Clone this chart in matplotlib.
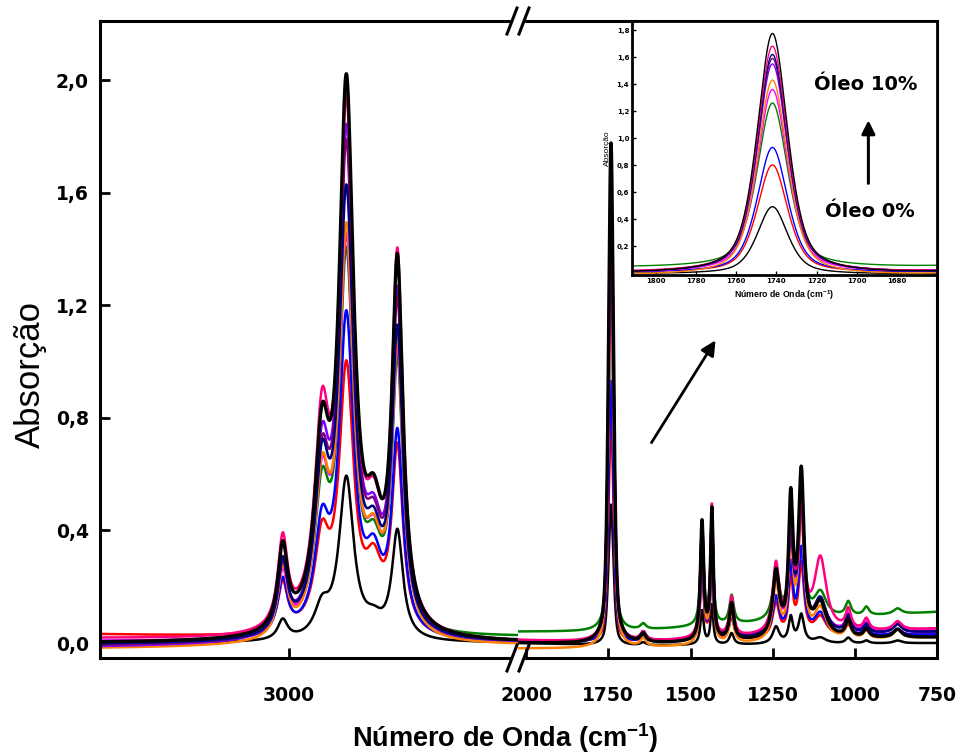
import numpy as np
import matplotlib
matplotlib.use("Agg")
import matplotlib.pyplot as plt
from matplotlib.patches import FancyArrowPatch

# ---------------- data ----------------
series = ["0%", "1%", "2%", "3%", "4%", "5%", "6%", "7%", "8%", "9%", "10%"]
colors = ["#000000", "#FF0000", "#0000FF", "#008000", "#FF00FF", "#FF8000",
          "#8000FF", "#800080", "#000080", "#FF0080", "#000000"]
widths_main = [1.8, 1.8, 1.8, 1.8, 1.8, 1.8, 1.8, 1.8, 1.8, 1.8, 2.4]

# band centres (cm-1), half widths (cm-1) and lorentzian fraction
band_wn = [3008, 2955, 2922, 2885, 2853, 1742, 1644, 1465, 1435, 1375,
           1240, 1195, 1163, 1105, 1020, 965, 870]
band_hw = [8, 12, 12, 14, 9, 9, 10, 6, 5, 8, 12, 8, 10, 22, 10, 10, 15]
band_eta = [1, 1, 1, 1, 1, 0.55, 1, 1, 1, 1, 1, 1, 1, 1, 1, 1, 1]

# band heights for each series (0% ... 10%)
h_3008 = [0.07, 0.17, 0.19, 0.22, 0.21, 0.24, 0.24, 0.24, 0.25, 0.31, 0.29]
h_2955 = [0.10, 0.30, 0.34, 0.44, 0.48, 0.50, 0.56, 0.52, 0.52, 0.66, 0.60]
h_2922 = [0.57, 0.92, 1.10, 1.30, 1.35, 1.40, 1.73, 1.68, 1.52, 1.80, 1.89]
h_2885 = [0.05, 0.20, 0.22, 0.22, 0.24, 0.25, 0.27, 0.26, 0.25, 0.30, 0.31]
h_2853 = [0.38, 0.64, 0.69, 0.93, 0.98, 1.02, 1.17, 1.14, 1.04, 1.29, 1.27]
h_1742 = [0.50, 0.80, 0.93, 1.22, 1.36, 1.45, 1.55, 1.59, 1.62, 1.68, 1.78]
h_1644 = [0.01, 0.02, 0.02, 0.02, 0.03, 0.03, 0.03, 0.03, 0.03, 0.03, 0.03]
h_1465 = [0.12, 0.25, 0.28, 0.33, 0.36, 0.37, 0.39, 0.40, 0.40, 0.41, 0.42]
h_1435 = [0.14, 0.28, 0.31, 0.36, 0.40, 0.41, 0.43, 0.44, 0.44, 0.46, 0.46]
h_1375 = [0.04, 0.08, 0.09, 0.10, 0.11, 0.11, 0.12, 0.12, 0.12, 0.14, 0.13]
h_1240 = [0.06, 0.12, 0.14, 0.17, 0.19, 0.20, 0.21, 0.21, 0.22, 0.24, 0.23]
h_1195 = [0.09, 0.20, 0.24, 0.29, 0.33, 0.34, 0.36, 0.37, 0.38, 0.40, 0.47]
h_1163 = [0.10, 0.25, 0.30, 0.36, 0.42, 0.44, 0.46, 0.47, 0.48, 0.45, 0.57]
h_1105 = [0.02, 0.07, 0.08, 0.09, 0.11, 0.11, 0.12, 0.12, 0.12, 0.26, 0.12]
h_1020 = [0.02, 0.04, 0.05, 0.05, 0.06, 0.06, 0.06, 0.06, 0.06, 0.07, 0.06]
h_965 = [0.01, 0.02, 0.03, 0.03, 0.03, 0.03, 0.03, 0.03, 0.03, 0.04, 0.03]
h_870 = [0.01, 0.02, 0.02, 0.02, 0.03, 0.03, 0.03, 0.03, 0.03, 0.03, 0.03]

# baselines at the ends (and middle of the right panel)
base_left_start = [0.00, 0.03, 0.005, 0.0, 0.005, -0.02, -0.015, -0.01, -0.005, 0.015, 0.0]
base_left_end = [0.0, 0.0, 0.0, 0.02, 0.0, -0.01, 0.0, 0.0, 0.0, 0.0, 0.0]
base_right_start = [0.0, 0.01, 0.005, 0.04, 0.0, -0.02, 0.0, 0.005, 0.0, 0.01, 0.0]
base_right_mid = [-0.01, 0.0, 0.0, 0.04, 0.0, -0.02, 0.0, 0.0, 0.0, 0.0, -0.005]
base_right_end = [0.0, 0.03, 0.03, 0.11, 0.05, 0.02, 0.04, 0.04, 0.04, 0.05, 0.02]
base_right_mid_wn = 1700

left_range = (3255, 2690)
right_range = (2025, 750)
inset_range = (1812, 1660)

y_ticks = [0.0, 0.4, 0.8, 1.2, 1.6, 2.0]
y_tick_labels = ["0,0", "0,4", "0,8", "1,2", "1,6", "2,0"]
x_ticks_left = [3000]
x_ticks_right = [2000, 1750, 1500, 1250, 1000, 750]
inset_x_ticks = [1800, 1780, 1760, 1740, 1720, 1700, 1680]
inset_y_ticks = [0.2, 0.4, 0.6, 0.8, 1.0, 1.2, 1.4, 1.6, 1.8]

heights = [h_3008, h_2955, h_2922, h_2885, h_2853, h_1742, h_1644, h_1465, h_1435,
           h_1375, h_1240, h_1195, h_1163, h_1105, h_1020, h_965, h_870]


def bands(i, wn):
    y = np.zeros_like(wn)
    for c, w, e, h in zip(band_wn, band_hw, band_eta, heights):
        u = (wn - c) / w
        y += h[i] * (e / (1.0 + u ** 2) + (1 - e) * np.exp(-np.log(2) * u ** 2))
    return y


def left_spectrum(i, wn):
    base = np.interp(wn, [left_range[1], left_range[0]],
                     [base_left_end[i], base_left_start[i]])
    return bands(i, wn) + base


def right_spectrum(i, wn):
    base = np.interp(wn, [right_range[1], base_right_mid_wn, right_range[0]],
                     [base_right_end[i], base_right_mid[i], base_right_start[i]])
    return bands(i, wn) + base


wn_left = np.linspace(left_range[0], left_range[1], 1500)
wn_right = np.linspace(right_range[0], right_range[1], 3000)

# ---------------- figure ----------------
plt.rcParams['font.family'] = ['DejaVu Sans']
plt.rcParams['mathtext.fontset'] = 'custom'
plt.rcParams['mathtext.rm'] = 'Liberation Sans:bold'
plt.rcParams['mathtext.it'] = 'Liberation Sans:bold'
plt.rcParams['mathtext.bf'] = 'Liberation Sans:bold'
W, H = 963, 756
fig = plt.figure(figsize=(W / 100, H / 100), dpi=100)

x0, xb, x1 = 100, 518, 937
yt, yb = 21, 658
ax1 = fig.add_axes([x0 / W, 1 - yb / H, (xb - x0) / W, (yb - yt) / H])
ax2 = fig.add_axes([xb / W, 1 - yb / H, (x1 - xb) / W, (yb - yt) / H])

for i in range(len(series)):
    ax1.plot(wn_left, left_spectrum(i, wn_left), color=colors[i], lw=widths_main[i])
    ax2.plot(wn_right, right_spectrum(i, wn_right), color=colors[i], lw=widths_main[i])

ylim = (-0.053, 2.21)
for ax in (ax1, ax2):
    ax.set_ylim(*ylim)
    for s in ax.spines.values():
        s.set_linewidth(2.2)
    ax.tick_params(direction='in', length=7, width=2, labelsize=13.5, pad=8)
ax1.set_xlim(*left_range)
ax2.set_xlim(*right_range)
ax1.spines['right'].set_visible(False)
ax2.spines['left'].set_visible(False)
ax1.set_xticks(x_ticks_left)
ax1.set_xticklabels([str(v) for v in x_ticks_left], fontweight='bold')
ax2.set_xticks(x_ticks_right)
ax2.set_xticklabels([str(v) for v in x_ticks_right], fontweight='bold')
ax1.set_yticks(y_ticks)
ax1.set_yticklabels(y_tick_labels, fontweight='bold')
ax2.set_yticks([])
ax2.tick_params(axis='x', pad=20)
ax1.tick_params(axis='x', pad=20)

fig.text(30 / W, 1 - 375 / H, "Absorção", rotation=90, ha='center', va='center',
         fontsize=25, family='Liberation Sans')
fig.text(505 / W, 1 - 738 / H, "Número de Onda (cm$^{-1}$)", ha='center', va='center',
         fontsize=19.5, fontweight='bold', family='Liberation Sans')

# break marks
for yy in (yt, yb):
    fig.add_artist(plt.Rectangle(((xb - 6) / W, 1 - (yy + 3) / H), 12 / W, 6 / H,
                                 color='white', transform=fig.transFigure, zorder=5))
    for dx in (-6, 6):
        fig.add_artist(plt.Line2D([(xb + dx - 5) / W, (xb + dx + 5) / W],
                                  [1 - (yy + 13) / H, 1 - (yy - 13) / H],
                                  color='black', lw=2.2, transform=fig.transFigure,
                                  zorder=6))

# arrow in main plot
fig.add_artist(FancyArrowPatch((650 / W, 1 - 445 / H), (717 / W, 1 - 338 / H),
                               transform=fig.transFigure, arrowstyle='-|>',
                               mutation_scale=22, lw=2, color='black'))

# ---------------- inset ----------------
ix0, ix1, iy0, iy1 = 632, 937, 21, 275
axi = fig.add_axes([ix0 / W, 1 - iy1 / H, (ix1 - ix0) / W, (iy1 - iy0) / H])
wn_in = np.linspace(inset_range[0], inset_range[1], 800)
for i in range(len(series)):
    axi.plot(wn_in, right_spectrum(i, wn_in), color=colors[i], lw=1.0)
axi.set_xlim(*inset_range)
axi.set_ylim(-0.015, 1.87)
axi.set_xticks(inset_x_ticks)
axi.set_xticklabels([str(v) for v in inset_x_ticks], fontweight='bold')
axi.set_yticks(inset_y_ticks)
axi.set_yticklabels([("%.1f" % v).replace('.', ',') for v in inset_y_ticks], fontweight='bold')
axi.tick_params(direction='in', length=3, width=1, labelsize=5, pad=2)
for s in axi.spines.values():
    s.set_linewidth(2)
axi.set_xlabel("Número de Onda (cm$^{-1}$)", fontsize=6.3, fontweight='bold', labelpad=3,
               family='Liberation Sans')
axi.set_ylabel("Absorção", fontsize=6, labelpad=4, family='Liberation Sans')
axi.text(0.765, 0.75, "Óleo 10%", transform=axi.transAxes, fontsize=14,
         fontweight='bold', ha='center', va='center')
axi.text(0.78, 0.25, "Óleo 0%", transform=axi.transAxes, fontsize=14,
         fontweight='bold', ha='center', va='center')
axi.annotate("", xy=(0.775, 0.62), xytext=(0.775, 0.35), xycoords='axes fraction',
             arrowprops=dict(arrowstyle='-|>', lw=2.2, color='black', mutation_scale=20))

fig.savefig("out.png", dpi=100)
